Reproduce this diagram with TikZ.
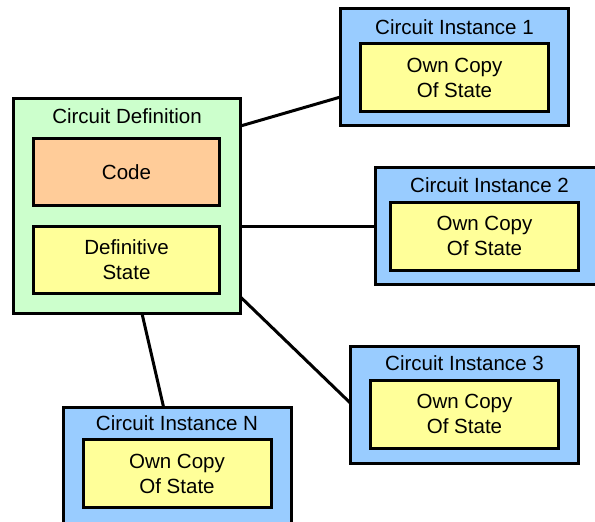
\documentclass[tikz,border=0pt]{standalone}
\usepackage{fontspec}
\setmainfont{Liberation Sans}
\usetikzlibrary{positioning}

\definecolor{defgreen}{HTML}{CCFFCC}
\definecolor{codeorange}{HTML}{FFCC99}
\definecolor{stateyellow}{HTML}{FFFF99}
\definecolor{instblue}{HTML}{99CCFF}

\begin{document}
\begin{tikzpicture}[x=0.75pt, y=-0.75pt,
    every node/.style={font=\fontsize{15.4}{18.75}\selectfont},
    box/.style={draw, line width=2.25pt, outer sep=0pt, inner sep=0pt, align=center},
    defbox/.style={box, fill=defgreen, minimum width=170.25pt, minimum height=161.25pt},
    instbox/.style={box, fill=instblue, minimum width=171pt, minimum height=87.75pt},
    codebox/.style={box, fill=codeorange, minimum width=139.5pt, minimum height=50.25pt},
    statebox/.style={box, fill=stateyellow, minimum width=139.5pt, minimum height=50.25pt},
    copybox/.style={box, fill=stateyellow, minimum width=141pt, minimum height=51pt},
    title/.style={inner sep=0pt},
    link/.style={line width=2.25pt}]
    \useasboundingbox (0,0) rectangle (595,521);
    % Circuit definition
    \node[defbox] (def) at (127,206) {};
    \node[title] (deftitle) at (127,116) {Circuit Definition};
    \node[codebox] (code) at (126.5,172) {Code};
    \node[statebox] (defstate) at (126.5,260) {Definitive\\State};
    % Instances
    \foreach \id/\lbl/\cx/\cy/\ty/\ix/\iy in {1/1/454.5/67/27/454.5/77.5, 2/2/489.5/226/185/484.5/236,
        3/3/464.5/404.5/363/464.5/414, n/N/177/466/423/177/473.5} {
        \node[instbox] (inst\id) at (\cx,\cy) {};
        \node[title] (inst\id title) at (\cx,\ty) {Circuit Instance \lbl};
        \node[copybox] (copy\id) at (\ix,\iy) {Own Copy\\Of State};
    }
    % Links
    \draw[link] ([yshift=60pt]def.east) -- ([yshift=-22.5pt]inst1.west);
    \draw[link] ([yshift=-15pt]def.east) -- (inst2.west);
    \draw[link] ([yshift=-68.25pt]def.east) -- ([yshift=1pt]inst3.west);
    \draw[link] ([xshift=11.25pt]def.south) -- ([xshift=-10pt]instn.north);
\end{tikzpicture}
\end{document}
